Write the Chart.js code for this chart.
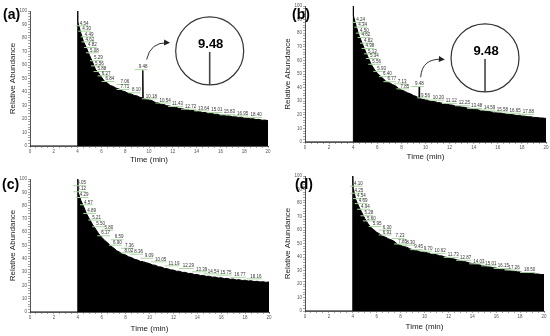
<!DOCTYPE html>
<html>
<head>
<meta charset="utf-8">
<script src="https://cdn.jsdelivr.net/npm/chart.js@4.4.1/dist/chart.umd.min.js"></script>
<style>
  body { margin: 0; background: #fff; }
  #wrap { position: relative; width: 550px; height: 336px; overflow: hidden; }
  canvas { position: absolute; }
  .tag { position: absolute; font: bold 14px "Liberation Sans", Arial, sans-serif; line-height: 14px; color: #000; }
</style>
</head>
<body>
<div id="wrap">
  <canvas id="chartA" width="275" height="168" style="left:0;top:0"></canvas>
  <canvas id="chartB" width="275" height="168" style="left:275px;top:0"></canvas>
  <canvas id="chartC" width="275" height="168" style="left:0;top:168px"></canvas>
  <canvas id="chartD" width="275" height="168" style="left:275px;top:168px"></canvas>
  <div class="tag" style="left:3px;top:7px">(a)</div>
  <div class="tag" style="left:292px;top:7px">(b)</div>
  <div class="tag" style="left:2px;top:177px">(c)</div>
  <div class="tag" style="left:295px;top:177px">(d)</div>
</div>
<script>
// retention times (min)
const times = [0, 3.99, 4, 4.03,
  4.25, 4.5, 4.75, 5, 5.25, 5.5, 5.75, 6, 6.25, 6.5, 6.75, 7, 7.25, 7.5, 7.75, 8, 8.25, 8.5, 8.75, 9, 9.25,
  9.45, 9.48, 9.51,
  9.75, 10, 10.25, 10.5, 10.75, 11, 11.25, 11.5, 11.75, 12, 12.25, 12.5, 12.75, 13, 13.25, 13.5, 13.75, 14,
  14.25, 14.5, 14.75, 15, 15.25, 15.5, 15.75, 16, 16.25, 16.5, 16.75, 17, 17.25, 17.5, 17.75, 18,
  18.25, 18.5, 18.75, 19, 19.25, 19.5, 19.75, 20];

// relative abundance, one list per panel
const abundA = [0, 0, 100, 92,
  84.3, 77.2, 72.6, 67.2, 62.3, 56.8, 54.2, 51.1, 48.0, 46.6, 44.8, 44.1, 42.8, 42.1, 40.8, 40.2, 39.0, 38.6, 37.5, 37.1, 36.0,
  35.7, 56, 35.2,
  34.4, 34.1, 33.6, 32.4, 32.0, 30.9, 30.7, 29.8, 29.6, 28.7, 28.6, 27.9, 27.8, 27.1, 27.0, 26.3, 26.3, 25.5,
  25.5, 24.8, 24.8, 24.0, 24.2, 23.5, 23.5, 22.8, 22.9, 22.3, 22.3, 21.7, 21.8, 21.2, 21.3, 20.6,
  20.7, 20.1, 20.2, 19.6, 19.7, 19.1, 19.2, 18.8];
const abundB = [0, 0, 100, 93,
  85.0, 78.0, 72.5, 67.0, 62.0, 57.0, 53.5, 50.5, 48.5, 46.5, 44.3, 43.6, 42.3, 41.3, 39.5, 38.3, 37.4, 36.2, 35.4, 34.2, 33.4,
  32.3, 40.5, 32.0,
  31.4, 30.9, 30.6, 29.9, 29.7, 29.0, 28.8, 28.2, 28.0, 27.3, 27.1, 26.5, 26.3, 25.7, 25.5, 24.9, 24.7, 24.1,
  23.9, 23.3, 23.1, 22.6, 22.4, 22.0, 21.8, 21.4, 21.3, 20.8, 20.6, 20.2, 20.1, 19.6, 19.5, 19.1,
  19.0, 18.6, 18.5, 18.1, 18.0, 17.7, 17.6, 17.3];
const abundC = [0, 0, 100, 90,
  84.0, 79.0, 73.5, 69.5, 65.5, 62.3, 58.8, 56.2, 53.8, 52.0, 49.6, 48.1, 46.1, 45.0, 43.5, 42.9, 41.5, 40.9, 39.6, 39.1, 38.0,
  37.9, 37.4, 37.7,
  37.0, 36.4, 35.4, 35.1, 34.0, 33.8, 32.8, 32.6, 31.7, 31.5, 30.7, 30.6, 29.8, 29.8, 29.0, 29.0, 28.2, 28.2,
  27.5, 27.5, 26.8, 26.9, 26.2, 26.3, 25.6, 25.8, 25.1, 25.3, 24.6, 24.8, 24.1, 24.3, 23.7, 23.9,
  23.3, 23.5, 22.9, 23.1, 22.6, 22.8, 22.3, 22.6];
const abundD = [0, 0, 100, 91,
  82.5, 77.5, 73.0, 68.5, 65.0, 62.0, 60.2, 58.3, 57.1, 55.4, 54.6, 53.4, 52.6, 51.4, 49.3, 48.6, 47.7, 47.3, 46.2, 45.4, 44.7,
  44.5, 44.2, 44.4,
  43.8, 43.6, 43.0, 42.6, 42.0, 41.7, 41.0, 40.7, 39.9, 39.5, 38.8, 38.5, 37.8, 37.4, 36.7, 36.3, 35.6, 35.2,
  34.6, 34.4, 33.8, 33.4, 32.8, 32.6, 32.0, 31.8, 31.2, 31.0, 30.4, 30.2, 29.7, 29.5, 29.0, 28.9,
  28.4, 28.3, 27.9, 27.8, 27.4, 27.4, 27.0, 27.0];

// peak annotations: retention time label, and where it is printed [time, abundance]
const peaksA = [4.54, 4.30, 4.49, 4.62, 4.82, 5.08, 5.29, 5.56, 5.88, 6.27, 6.84, 7.06, 7.71, 8.10, 9.48,
  10.18, 10.54, 11.43, 12.72, 13.64, 15.01, 15.83, 16.95, 18.40];
const spotsA = [[4.54, 90.9], [4.76, 86.9], [4.96, 82.7], [5.04, 79], [5.24, 74.8], [5.41, 70.9], [5.74, 65],
  [5.83, 61.2], [6.05, 57], [6.39, 53.8], [6.72, 49.6], [7.98, 47.4], [7.98, 43.7], [8.93, 41.3], [9.5, 58.4],
  [10.2, 36.8], [11.35, 33.7], [12.4, 31.1], [13.5, 29.1], [14.6, 27.9], [15.7, 26.6], [16.75, 25], [17.87, 24.2], [19.0, 23]];
const peaksB = [4.24, 4.34, 4.50, 4.62, 4.82, 4.98, 5.13, 5.34, 5.56, 5.93, 6.40, 6.77, 7.13, 7.85, 9.48,
  9.56, 10.20, 11.12, 12.25, 13.48, 14.59, 15.58, 16.65, 17.88];
const spotsB = [[4.62, 89.8], [4.79, 86.3], [4.92, 81.9], [5.06, 78.7], [5.26, 74.5], [5.39, 70.6], [5.59, 66.7],
  [5.75, 63.2], [5.95, 59], [6.36, 53.8], [6.83, 49.9], [7.2, 46.2], [8.07, 44.6], [8.28, 40.9], [9.5, 42.6],
  [10.0, 34.3], [11.07, 32.6], [12.14, 30.2], [13.22, 28.5], [14.25, 26.4], [15.32, 25.3], [16.38, 24], [17.43, 23], [18.53, 22.2]];
const peaksC = [4.05, 4.12, 4.29, 4.57, 4.89, 5.21, 5.50, 5.80, 6.17, 6.59, 6.90, 7.36, 8.02, 8.36, 9.09,
  10.05, 11.19, 12.29, 13.39, 14.54, 15.75, 16.77, 18.16];
const spotsC = [[4.33, 96.8], [4.33, 92.3], [4.52, 88], [4.88, 82.5], [5.16, 76], [5.58, 71], [5.91, 66],
  [6.61, 63.4], [6.33, 59.2], [7.45, 56.2], [7.31, 52.1], [8.31, 49.8], [8.28, 46.4], [9.09, 45.3], [9.96, 42.3],
  [10.93, 39.6], [12.05, 36.6], [13.25, 34.6], [14.37, 32.1], [15.34, 30.6], [16.4, 29.6], [17.57, 27.9], [18.91, 26.8]];
const peaksD = [4.10, 4.25, 4.54, 4.69, 4.94, 5.28, 5.60, 5.95, 6.30, 6.91, 7.23, 7.85, 8.30, 9.45, 9.70,
  10.62, 11.73, 12.87, 14.03, 15.01, 16.15, 17.26, 18.50];
const spotsD = [[4.46, 94.3], [4.5, 89.1], [4.72, 85.1], [4.86, 81.4], [5.06, 77.2], [5.34, 72.4], [5.55, 68.6],
  [6.03, 64.5], [6.87, 61.8], [6.87, 58.2], [7.95, 55.6], [8.16, 51.5], [8.84, 50.6], [9.5, 47.3], [10.3, 46.2],
  [11.3, 44.5], [12.4, 41.6], [13.45, 39.4], [14.55, 36.8], [15.55, 35.3], [16.6, 33.3], [17.5, 32.2], [18.8, 30.4]];

// zoomed inset for the 9.48 peak: circle centre, arrow start / bend / end (time, abundance)
const zoomA = { label: "9.48", centre: [15.1, 70.4], arrow: [[9.8, 64], [10.1, 77], [11.6, 76.5]] };
const zoomB = { label: "9.48", centre: [14.94, 61.8], arrow: [[9.6, 47.6], [9.7, 61.8], [11.44, 60.8]] };

const FONT = '"Liberation Sans", Arial, sans-serif';

const peakLabels = {
  id: 'peakLabels',
  afterDatasetsDraw(chart, args, opts) {
    const {ctx, scales: {x, y}} = chart;
    ctx.save();
    ctx.font = '4.5px ' + FONT;
    ctx.textAlign = 'center';
    ctx.textBaseline = 'middle';
    opts.names.forEach((n, i) => {
      const px = x.getPixelForValue(opts.spots[i][0]);
      const py = y.getPixelForValue(opts.spots[i][1]);
      const txt = n.toFixed(2);
      const w = ctx.measureText(txt).width;
      ctx.strokeStyle = '#a9d6a0';
      ctx.lineWidth = 1;
      ctx.beginPath();
      ctx.moveTo(px - w / 2 - 4, py + 2.5);
      ctx.lineTo(px + w / 2, py + 2.5);
      ctx.stroke();
      ctx.fillStyle = '#333';
      ctx.fillText(txt, px, py);
    });
    const z = opts.zoom;
    if (z) {
      const cx = x.getPixelForValue(z.centre[0]);
      const cy = y.getPixelForValue(z.centre[1]);
      const r = 34;
      ctx.strokeStyle = '#333';
      ctx.lineWidth = 1.2;
      ctx.beginPath();
      ctx.arc(cx, cy, r, 0, Math.PI * 2);
      ctx.stroke();
      ctx.strokeStyle = '#444';
      ctx.lineWidth = 1.6;
      ctx.beginPath();
      ctx.moveTo(cx, cy + 1);
      ctx.lineTo(cx, cy + r);
      ctx.stroke();
      ctx.fillStyle = '#000';
      ctx.font = 'bold 13px ' + FONT;
      ctx.fillText(z.label, cx + 1, cy - 7);
      const p = z.arrow.map(a => [x.getPixelForValue(a[0]), y.getPixelForValue(a[1])]);
      ctx.strokeStyle = '#333';
      ctx.lineWidth = 1;
      ctx.beginPath();
      ctx.moveTo(p[0][0], p[0][1]);
      ctx.quadraticCurveTo(p[1][0], p[1][1], p[2][0], p[2][1]);
      ctx.stroke();
      const ang = Math.atan2(p[2][1] - p[1][1], p[2][0] - p[1][0]);
      ctx.fillStyle = '#222';
      ctx.beginPath();
      ctx.moveTo(p[2][0] + 2 * Math.cos(ang), p[2][1] + 2 * Math.sin(ang));
      ctx.lineTo(p[2][0] - 4 * Math.cos(ang) - 3 * Math.sin(ang), p[2][1] - 4 * Math.sin(ang) + 3 * Math.cos(ang));
      ctx.lineTo(p[2][0] - 4 * Math.cos(ang) + 3 * Math.sin(ang), p[2][1] - 4 * Math.sin(ang) - 3 * Math.cos(ang));
      ctx.closePath();
      ctx.fill();
    }
    ctx.restore();
  }
};

function makeChart(id, values, names, spots, zoom, box) {
  new Chart(id, {
    type: 'line',
    data: {
      datasets: [{
        data: times.map((t, i) => ({x: t, y: values[i]})),
        borderColor: '#000',
        backgroundColor: '#000',
        borderWidth: 1,
        fill: 'origin',
        pointRadius: 0,
        tension: 0
      }]
    },
    options: {
      responsive: false,
      animation: false,
      layout: { padding: { left: 0, top: box.top, right: 275 - box.right, bottom: 0 } },
      plugins: {
        legend: { display: false },
        tooltip: { enabled: false },
        peakLabels: { names: names, spots: spots, zoom: zoom }
      },
      scales: {
        x: {
          type: 'linear', min: 0, max: 20,
          afterFit: s => { s.height = 168 - box.bottom; },
          border: { color: '#555', width: 1 },
          grid: { drawOnChartArea: false, tickLength: 2, tickColor: '#666', tickWidth: 0.6 },
          ticks: {
            stepSize: 0.5, autoSkip: false, maxRotation: 0, padding: 1,
            color: '#555', font: { size: 4.5, family: FONT },
            callback: v => (v % 2 === 0 ? v : '')
          },
          title: { display: true, text: 'Time (min)', color: '#222', font: { size: 8, family: FONT },
                   padding: { top: 0, bottom: box.titleGap } }
        },
        y: {
          min: 0, max: 100,
          afterFit: s => { s.width = box.left; },
          border: { color: '#555', width: 1 },
          grid: { drawOnChartArea: false, tickLength: 2, tickColor: '#666', tickWidth: 0.6 },
          ticks: {
            stepSize: 2, autoSkip: false, padding: 1,
            color: '#555', font: { size: 4.5, family: FONT },
            callback: v => (v % 10 === 0 ? v : '')
          },
          title: { display: true, text: 'Relative Abundance', color: '#222', font: { size: 8, family: FONT },
                   padding: { top: 8, bottom: 0 } }
        }
      }
    },
    plugins: [peakLabels]
  });
}

makeChart('chartA', abundA, peaksA, spotsA, zoomA, { left: 30, right: 268, top: 11, bottom: 146, titleGap: 3.2 });
makeChart('chartB', abundB, peaksB, spotsB, zoomB, { left: 30, right: 271, top: 6, bottom: 142, titleGap: 6.2 });
makeChart('chartC', abundC, peaksC, spotsC, null, { left: 30, right: 269, top: 11, bottom: 144, titleGap: 2.2 });
makeChart('chartD', abundD, peaksD, spotsD, null, { left: 30, right: 269, top: 8, bottom: 143, titleGap: 4.2 });
</script>
</body>
</html>
